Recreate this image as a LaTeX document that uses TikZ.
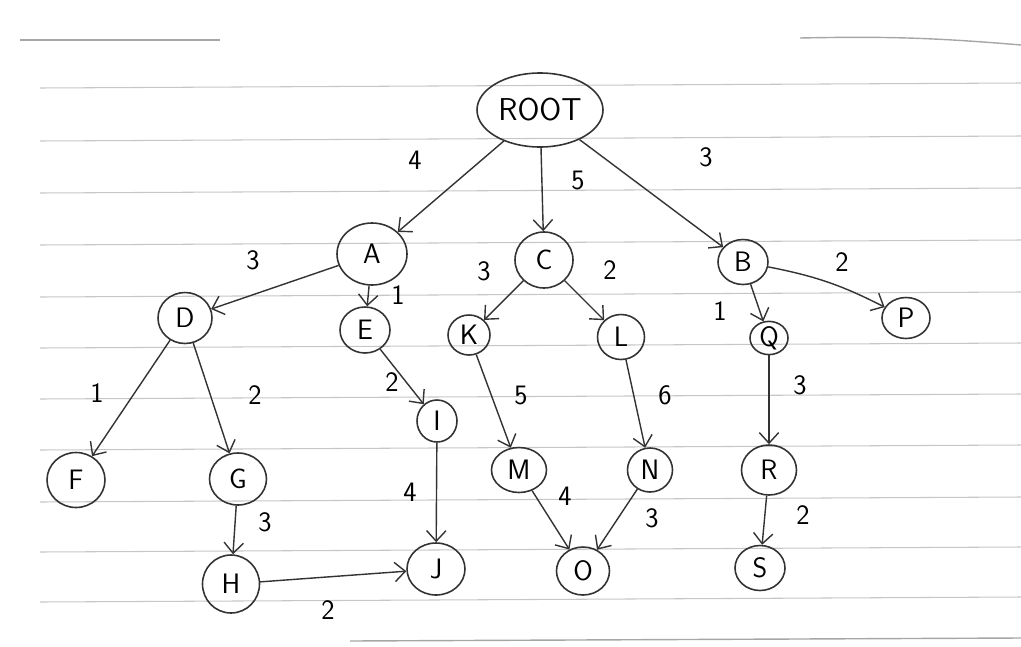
\documentclass[tikz,border=0pt]{standalone}
\usepackage{tikz}
\usetikzlibrary{arrows.meta,calc,positioning,shapes.geometric}

\begin{document}
\begin{tikzpicture}[x=0.02cm,y=-0.02cm,
  vx/.style={ellipse,draw=black!80,line width=0.9pt,inner sep=0pt,
    font=\sffamily\fontsize{16}{19}\selectfont},
  edge/.style={draw=black!80,line width=0.8pt,-{Straight Barb[length=6pt,width=11pt]}},
  wt/.style={font=\sffamily\fontsize{16}{19}\selectfont},
  rule/.style={gray!45,line width=0.6pt}]
\useasboundingbox (0,0) rectangle (1021,646);
% ruled paper
\foreach \y in {88,141,193,245,297,348,399,450,502,552,602}{
  \draw[rule] (40,\y) -- (1021,\y-5);
}
\draw[gray!70,line width=0.8pt] (20,40) -- (220,40);
\draw[gray!70,line width=0.8pt] (800,38) to[bend left=3] (1021,45);
\draw[gray!70,line width=0.8pt] (350,641) -- (1021,638);
% vertices
\node[vx,minimum width=126*0.02cm,minimum height=74*0.02cm,
  font=\sffamily\fontsize{18}{21}\selectfont] (root) at (540,110) {ROOT};
\foreach \n/\x/\y/\w/\h in {
  A/372/254/70/62, C/544/260/58/56, B/743/262/50/45,
  D/185/318/54/51, E/365/330/50/46, K/469/335/42/40, L/621/337/47/45,
  Q/769/338/38/30, P/906/318/48/41, I/437/421/40/42,
  F/76/480/58/55, G/238/479/57/52, M/519/470/55/45, N/650/470/45/44,
  R/769/470/55/50, H/231/584/57/58, J/436/569/58/52, O/583/571/53/48,
  S/760/568/50/45}{
  \node[vx,minimum width=\w*0.02cm,minimum height=\h*0.02cm] (\n) at (\x,\y) {\n};
}
% weighted edges
\foreach \s/\t/\w/\lx/\ly in {
  root/A/4/415/160, root/C/5/578/180, root/B/3/706/157,
  A/D/3/253/260, A/E/1/398/295, C/K/3/484/271, C/L/2/610/270,
  B/Q/1/720/311, D/F/1/97/393, D/G/2/255/395, E/I/2/392/382,
  I/J/4/410/492, K/M/5/521/395, L/N/6/665/395, Q/R/3/800/385,
  G/H/3/265/522, H/J/2/328/610, M/O/4/565/496, N/O/3/652/518,
  R/S/2/803/515}{
  \draw[edge] (\s) -- (\t) node[wt] at (\lx,\ly) {\w};
}
\draw[edge] (B) to[bend left=8] (P) node[wt] at (842,262) {2};
\end{tikzpicture}
\end{document}
